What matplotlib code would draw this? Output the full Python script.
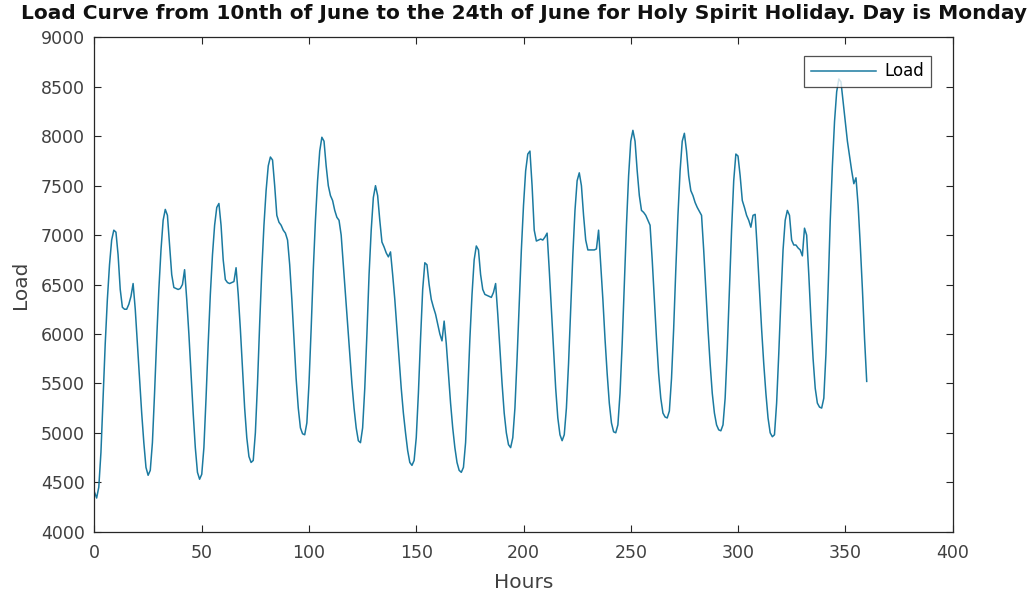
import matplotlib
matplotlib.use("Agg")
import matplotlib.pyplot as plt

# Hourly load, 10 June 00:00 .. 24 June 24:00 (hour 0 .. 360)
load = [
    4400, 4340, 4450, 4800, 5350, 5900, 6350, 6700, 6950, 7050, 7030, 6800, 6450, 6270, 6250, 6250, 6300, 6380, 6510, 6250, 5900, 5550, 5200, 4900,
    4650, 4570, 4620, 4900, 5400, 5950, 6450, 6850, 7150, 7260, 7200, 6900, 6600, 6470, 6460, 6450, 6460, 6500, 6650, 6350, 6000, 5600, 5200, 4850,
    4600, 4530, 4580, 4850, 5350, 5900, 6400, 6800, 7100, 7280, 7320, 7100, 6750, 6550, 6520, 6510, 6520, 6530, 6670, 6400, 6050, 5650, 5250, 4950,
    4760, 4700, 4720, 5000, 5500, 6100, 6650, 7100, 7450, 7700, 7790, 7760, 7500, 7200, 7130, 7100, 7050, 7020, 6950, 6700, 6350, 5950, 5550, 5250,
    5050, 4990, 4980, 5100, 5500, 6050, 6650, 7150, 7550, 7850, 7990, 7950, 7700, 7500, 7400, 7350, 7250, 7180, 7150, 7000, 6700, 6400, 6100, 5800,
    5500, 5250, 5050, 4920, 4900, 5050, 5450, 6000, 6600, 7050, 7380, 7500, 7400, 7150, 6930, 6880, 6820, 6780, 6830, 6600, 6350, 6050, 5750, 5450,
    5200, 5000, 4820, 4700, 4670, 4720, 4950, 5400, 5950, 6450, 6720, 6700, 6500, 6350, 6270, 6200, 6100, 6000, 5930, 6130, 5900, 5600, 5300, 5050,
    4850, 4700, 4620, 4600, 4650, 4900, 5400, 5950, 6400, 6750, 6890, 6850, 6600, 6450, 6400, 6390, 6380, 6370, 6420, 6510, 6200, 5850, 5500, 5200,
    5000, 4880, 4850, 4950, 5250, 5750, 6300, 6850, 7300, 7650, 7820, 7850, 7500, 7050, 6940, 6950, 6960, 6950, 6980, 7020, 6650, 6250, 5850, 5450,
    5150, 4980, 4920, 4980, 5250, 5700, 6250, 6800, 7250, 7550, 7630, 7500, 7200, 6950, 6850, 6850, 6850, 6850, 6860, 7050, 6700, 6350, 5950, 5600,
    5300, 5100, 5010, 5000, 5080, 5400, 5900, 6500, 7100, 7600, 7950, 8060, 7950, 7650, 7400, 7250, 7230, 7200, 7150, 7100, 6750, 6350, 5950, 5600,
    5350, 5200, 5160, 5150, 5220, 5550, 6050, 6650, 7200, 7650, 7950, 8030, 7850, 7600, 7450, 7400, 7330, 7280, 7240, 7200, 6850, 6450, 6050, 5700,
    5400, 5200, 5080, 5030, 5020, 5080, 5350, 5850, 6450, 7050, 7550, 7820, 7800, 7600, 7350, 7280, 7200, 7150, 7080, 7200, 7210, 6850, 6450, 6050,
    5700, 5400, 5150, 5000, 4960, 4980, 5300, 5800, 6350, 6850, 7150, 7250, 7200, 6950, 6900, 6900, 6870, 6850, 6790, 7070, 7000, 6600, 6150, 5750,
    5450, 5300, 5260, 5250, 5350, 5800, 6450, 7150, 7700, 8150, 8450, 8580, 8550, 8350, 8150, 7950, 7800, 7650, 7520, 7580, 7300, 6900, 6450, 5950,
    5520,
]
hours = list(range(len(load)))

x_ticks = [0, 50, 100, 150, 200, 250, 300, 350, 400]
y_ticks = [4000, 4500, 5000, 5500, 6000, 6500, 7000, 7500, 8000, 8500, 9000]

title = "Load Curve from 10nth of June to the 24th of June for Holy Spirit Holiday. Day is Monday"

plt.rcParams['font.family'] = ['DejaVu Sans']

fig = plt.figure(figsize=(10.35, 5.94), dpi=100)
ax = fig.add_axes([0.0913, 0.105, 0.829, 0.832])

ax.plot(hours, load, color='#1b7aa0', linewidth=1.1, label='Load')

ax.set_xlim(0, 400)
ax.set_ylim(4000, 9000)
ax.set_xticks(x_ticks)
ax.set_yticks(y_ticks)
ax.tick_params(direction='in', length=5, width=0.8, labelsize=12.5,
               colors='#262626', labelcolor='#404040', top=True, right=True,
               labeltop=False, labelright=False)
ax.tick_params(axis='x', pad=9)
ax.tick_params(axis='y', pad=7)
for s in ax.spines.values():
    s.set_color('#262626')
    s.set_linewidth(0.9)

ax.set_xlabel('Hours', fontsize=14.5, color='#404040', labelpad=8)
ax.set_ylabel('Load', fontsize=14.5, color='#404040', labelpad=8)
fig.text(0.506, 0.978, title, ha='center', va='center', fontsize=14.5,
         fontweight='bold', color='#111111')

leg = ax.legend(loc='upper right', bbox_to_anchor=(0.9744, 0.963), fontsize=12,
                frameon=True, fancybox=False, handlelength=3.9, handletextpad=0.5,
                borderpad=0.4, borderaxespad=0)
leg.get_frame().set_edgecolor('#262626')
leg.get_frame().set_linewidth(0.9)

fig.savefig('out.png', dpi=100)
